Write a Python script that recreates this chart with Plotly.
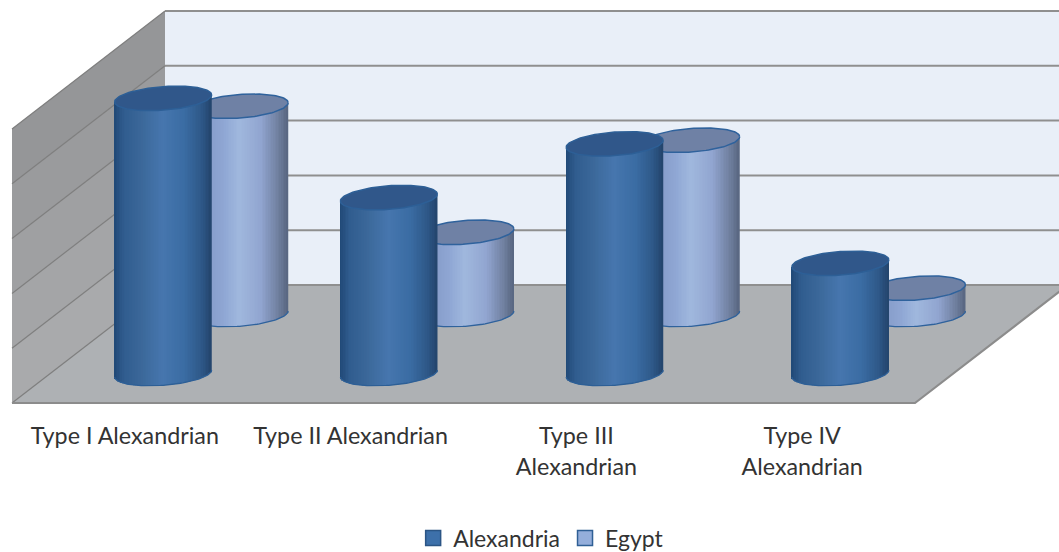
import numpy as np
import plotly.graph_objects as go

# ---- data ----
categories = ["Type I Alexandrian", "Type II Alexandrian", "Type III<br>Alexandrian", "Type IV<br>Alexandrian"]
alexandria = [50.2, 32.1, 41.9, 20.1]
egypt = [38.0, 15.0, 31.8, 4.8]
grid_values = [0, 10, 20, 30, 40, 50]

# ---- geometry of the oblique view, in axis units ----
PX_X, PX_Y = 225.75, 5.48          # pixels per category / per value unit
DX, DY = 153 / PX_X, 118 / PX_Y    # shift of the full depth of the room
RX = 48.5 / PX_X                   # cylinder radius
TILT, MINOR = 3.5 / PX_Y, 11.8 / PX_Y
N_STRIPS = 60
FONT = "Lato"


def oblique(x, depth, v):
    return x + depth * DX, v + depth * DY


def shade(stops, c):
    pos = [s[0] for s in stops]
    rgb = [np.interp(c, pos, [s[1][k] for s in stops]) for k in range(3)]
    return "rgb(%d,%d,%d)" % tuple(int(round(v)) for v in rgb)


ALEX_STOPS = [(-1, (32, 72, 118)), (-0.8, (48, 92, 142)), (-0.4, (60, 105, 155)), (0, (70, 118, 174)),
              (0.45, (58, 108, 163)), (0.8, (46, 88, 136)), (1, (35, 68, 108))]
EGYPT_STOPS = [(-1, (125, 145, 190)), (-0.3, (143, 167, 212)), (0, (160, 184, 222)), (0.45, (145, 165, 208)),
               (0.8, (112, 128, 160)), (1, (88, 102, 128))]

fig = go.Figure()


def poly(xs, ys, color, z=0):
    fig.add_trace(go.Scatter(x=xs, y=ys, mode="lines", fill="toself", fillcolor=color,
                             line=dict(width=0, color=color), showlegend=False,
                             hoverinfo="skip", zorder=z))


def line(xs, ys, color, width, z=0):
    fig.add_trace(go.Scatter(x=xs, y=ys, mode="lines", line=dict(color=color, width=width),
                             showlegend=False, hoverinfo="skip", zorder=z))


n_cat = len(categories)
top = grid_values[-1]

# room
corners = [oblique(x, d, 0) for x, d in [(0, 0), (n_cat, 0), (n_cat, 1), (0, 1)]]
poly([c[0] for c in corners], [c[1] for c in corners], "#aeb1b4")
bx0, by0 = oblique(0, 1, 0)
bx1, _ = oblique(n_cat, 1, 0)
poly([bx0, bx1, bx1, bx0], [by0, by0, by0 + top, by0 + top], "#e9eff8")
wall_colors = ["#a9aaac", "#a4a5a7", "#9fa0a2", "#9a9b9d", "#959698"]
for lo, hi, col in zip(grid_values[:-1], grid_values[1:], wall_colors):
    pts = [oblique(0, 0, lo), oblique(0, 1, lo), oblique(0, 1, hi), oblique(0, 0, hi)]
    poly([p[0] for p in pts], [p[1] for p in pts], col)
for v in grid_values:
    x1, y1 = oblique(0, 1, v)
    x0, y0 = oblique(0, 0, v)
    x2, y2 = oblique(n_cat, 1, v)
    line([x1, x2], [y1, y2], "#8f8f8f", 2)
    line([x0, x1], [y0, y1], "#7e7e7e", 1.2)
fx0, fy0 = oblique(0, 0, 0)
fx1, fy1 = oblique(n_cat, 0, 0)
fx2, fy2 = oblique(n_cat, 1, 0)
line([fx0, fx1, fx2], [fy0, fy1, fy2], "#8c8c8c", 2.2)


def series(name, values, depth, stops, mid, rim, cap, z):
    cx = np.array([oblique(i + 0.5, depth, 0)[0] for i in range(n_cat)])
    _, cy = oblique(0, depth, 0)
    # plain bar under the shading
    fig.add_trace(go.Bar(name=name, x=cx, y=values, base=cy, width=2 * RX * 0.9, marker=dict(color=mid, line=dict(width=0)),
                         showlegend=False, hovertemplate=name + ": %{y}<extra></extra>", zorder=z))
    # shading strips
    cs = (np.arange(N_STRIPS) + 0.5) / N_STRIPS * 2 - 1
    xs, bases, hs, cols = [], [], [], []
    for c0, v in zip(cx, values):
        for c in cs:
            low = cy + TILT * c - MINOR * np.sqrt(1 - c * c)
            up = cy + v + TILT * c
            xs.append(c0 + c * RX)
            bases.append(low)
            hs.append(up - low)
            cols.append(shade(stops, c))
    fig.add_trace(go.Bar(x=xs, y=hs, base=bases, width=2 * RX / N_STRIPS * 1.15,
                         marker=dict(color=cols, line=dict(width=0)), showlegend=False,
                         hoverinfo="skip", zorder=z))
    # rims and caps
    t = np.linspace(0, 2 * np.pi, 121)
    for c0, v in zip(cx, values):
        ex = c0 + RX * np.cos(t)
        low = t[60:]
        line(c0 + RX * np.cos(low), cy + TILT * np.cos(low) + MINOR * np.sin(low), rim, 1.3, z + 1)
        ey = cy + v + TILT * np.cos(t) + MINOR * np.sin(t)
        fig.add_trace(go.Scatter(x=ex, y=ey, mode="lines", fill="toself", fillcolor=cap,
                                 line=dict(color=rim, width=1.5), showlegend=False,
                                 hoverinfo="skip", zorder=z + 1))


series("Egypt", egypt, 0.75, EGYPT_STOPS, "#94aedb", "#2f629c", "#6f81a5", 1)
series("Alexandria", alexandria, 0.25, ALEX_STOPS, "#3b6fa8", "#2d5f96", "#30578a", 3)

# legend keys
for name, fillc, edge in [("Alexandria", "#3d70aa", "#2b5585"), ("Egypt", "#94aedb", "#2f5f95")]:
    fig.add_trace(go.Scatter(x=[None], y=[None], mode="markers", name=name,
                             marker=dict(symbol="square", size=15, color=fillc, line=dict(color=edge, width=1.5))))

fig.update_layout(
    width=1059, height=552, margin=dict(l=0, r=0, t=0, b=132, autoexpand=False),
    paper_bgcolor="white", plot_bgcolor="rgba(0,0,0,0)", barmode="overlay",
    font=dict(family=FONT, size=23.3, color="#333333"),
    xaxis=dict(range=[-12 / PX_X, 1047 / PX_X], tickmode="array",
               tickvals=[i + 0.5 for i in range(n_cat)], ticktext=categories,
               showgrid=False, zeroline=False, showline=False, ticks="", ticklabelstandoff=0,
               tickangle=0, fixedrange=True),
    yaxis=dict(range=[(403 - 420) / PX_Y, 403 / PX_Y], visible=False, fixedrange=True),
    legend=dict(orientation="h", x=0.511, xanchor="center", y=-(538 - 420) / 420, yanchor="middle",
                traceorder="normal", bgcolor="rgba(0,0,0,0)", font=dict(size=23)),
    showlegend=True,
)
fig.write_html("out.html", post_script="document.body.style.margin='0';",
               config={"displayModeBar": False})
